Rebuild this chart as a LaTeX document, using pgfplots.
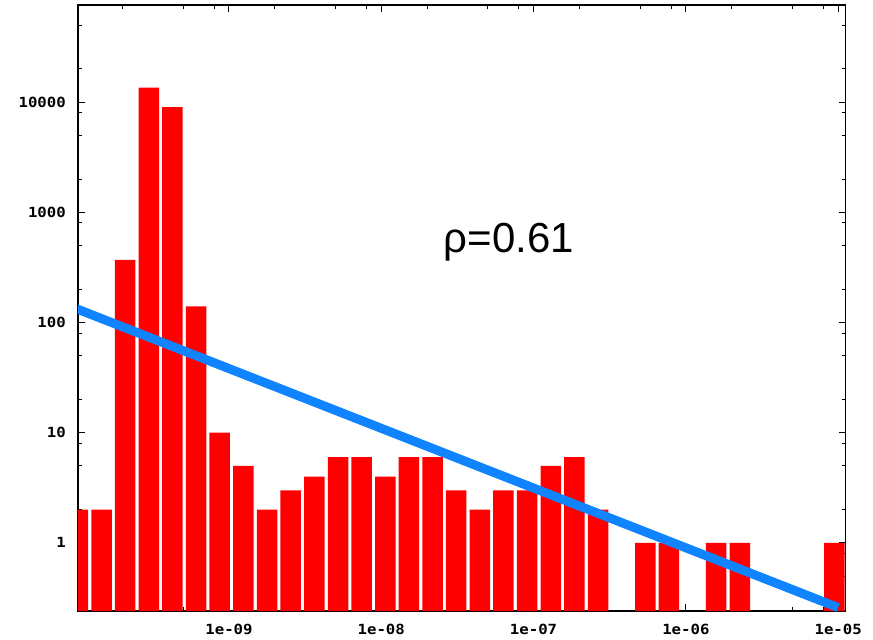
\documentclass[border=0pt]{standalone}
\usepackage{fontspec}
\setmainfont{Liberation Sans}
\newfontfamily\tickfont[FakeStretch=1.12]{DejaVu Sans Mono}
\usepackage{pgfplots}
\pgfplotsset{compat=1.18}
\definecolor{barred}{RGB}{255,0,0}
\definecolor{fitblue}{RGB}{16,132,255}
\begin{document}
\begin{tikzpicture}
\begin{axis}[
  scale only axis, width=767.7bp, height=606bp,
  xmode=log, ymode=log, log origin y=infty,
  xmin=1.02e-10, xmax=1.12e-5, ymin=0.241, ymax=76000,
  xtick={1e-9,1e-8,1e-7,1e-6,1e-5},
  xticklabels={1e-09,1e-08,1e-07,1e-06,1e-05},
  ytick={1,10,100,1000,10000},
  yticklabels={1,10,100,1000,10000},
  minor xtick={2e-10,5e-10,8e-10,2e-9,5e-9,8e-9,2e-8,5e-8,8e-8,2e-7,5e-7,8e-7,2e-6,5e-6,8e-6},
  minor ytick={0.5,0.8,2,5,8,20,50,80,200,500,800,2000,5000,8000,20000,50000},
  tick align=inside, major tick length=7bp, minor tick length=4bp,
  axis line style={line width=1.2bp, black},
  every tick/.style={black, line width=1bp},
  ticklabel style={font=\tickfont\bfseries\fontsize{14bp}{14bp}\selectfont, inner sep=0pt},
  yticklabel style={xshift=-12bp},
  xticklabel style={yshift=-13bp},
]
\addplot[ybar, bar width=20.5bp, fill=barred, draw=none] coordinates {
(1.019e-10,2) (1.456e-10,2) (2.080e-10,370) (2.979e-10,13500) (4.256e-10,9000)
(6.081e-10,140) (8.690e-10,10) (1.245e-9,5) (1.778e-9,2) (2.541e-9,3)
(3.631e-9,4) (5.200e-9,6) (7.430e-9,6) (1.062e-8,4) (1.517e-8,6)
(2.173e-8,6) (3.105e-8,3) (4.436e-8,2) (6.339e-8,3) (9.078e-8,3)
(1.297e-7,5) (1.854e-7,6) (2.649e-7,2) (5.420e-7,1) (7.745e-7,1)
(1.581e-6,1) (2.265e-6,1) (9.428e-6,1)
};
\addplot[fitblue, line width=9bp, sharp plot, mark=none] coordinates {(1e-10,133) (1e-5,0.259)};
\node at (axis cs:6.9e-8,540) {\fontsize{42bp}{42bp}\selectfont ρ=0.61};
\end{axis}
\path (current axis.south west) ++(-78bp,-29bp) rectangle ++(873bp,640bp);
\end{tikzpicture}
\end{document}
